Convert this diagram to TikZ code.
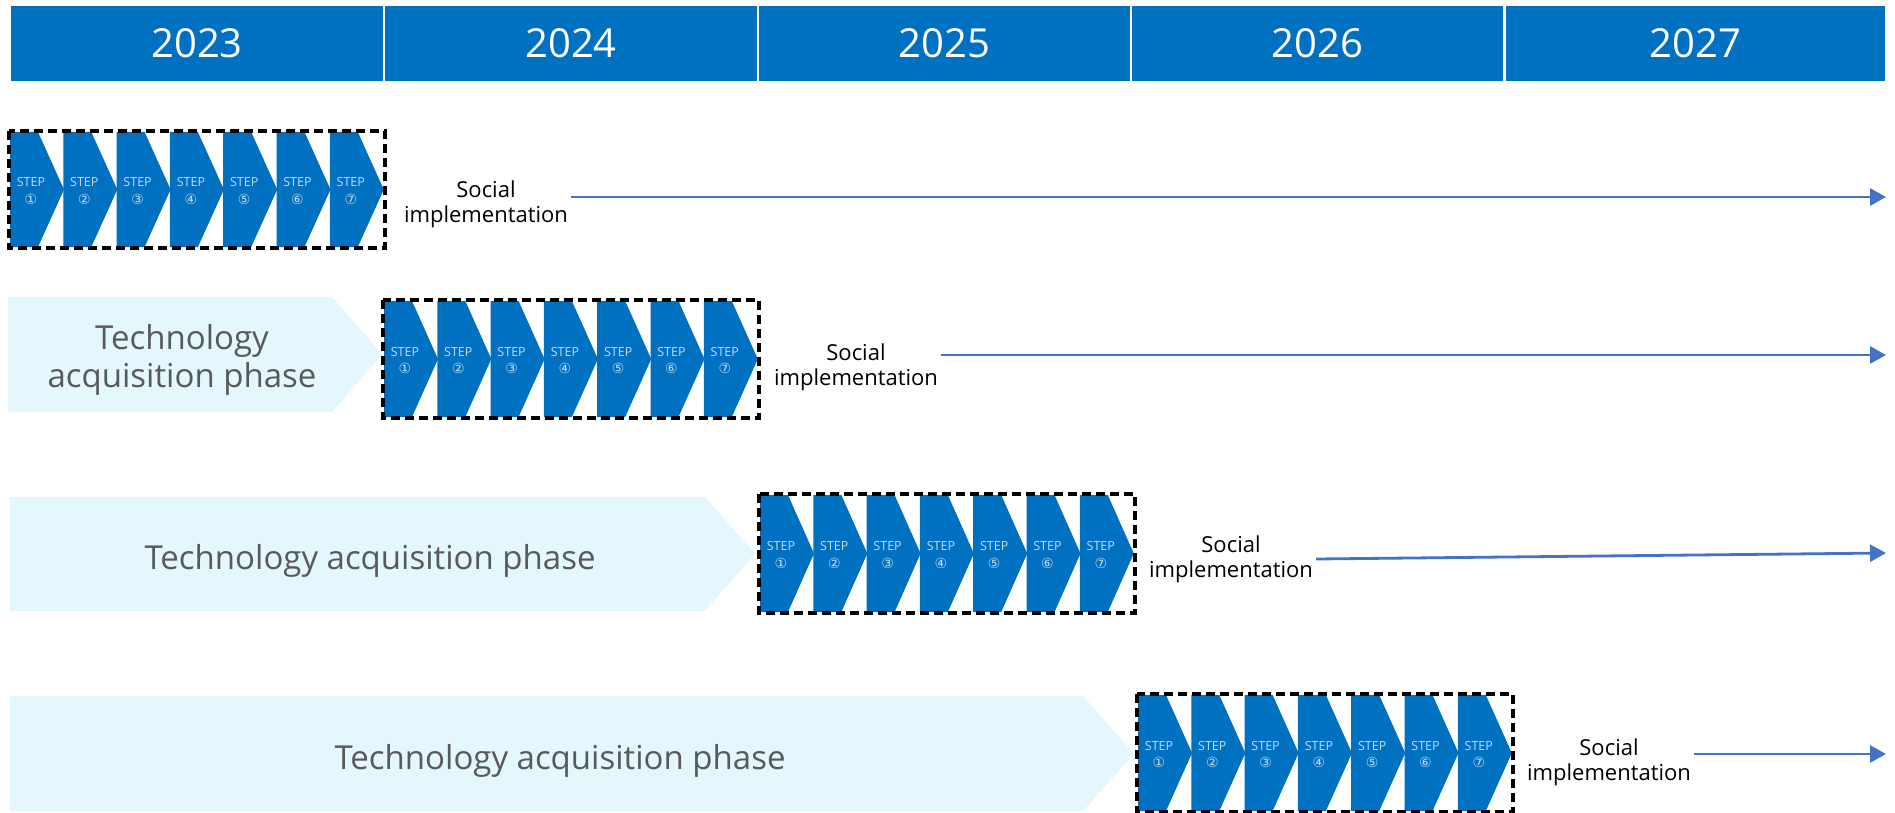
\documentclass[tikz,border=0pt]{standalone}
\usepackage{fontspec}
\setmainfont{Open Sans}
\newfontfamily\circfont{DejaVu Sans}
\usetikzlibrary{arrows.meta}
\definecolor{hdrblue}{HTML}{0070C0}
\definecolor{stepblue}{HTML}{0070C0}
\definecolor{arrblue}{HTML}{4472C4}
\definecolor{phasefill}{HTML}{E4F7FD}
\definecolor{phasetext}{HTML}{595959}
\definecolor{steptext}{HTML}{C9DCF0}
\tikzset{
  hdr/.style={fill=hdrblue, text=white, inner sep=0pt, outer sep=0pt, anchor=north west,
    minimum height=75pt, font=\fontsize{40}{44}\selectfont},
  steplbl/.style={text=steptext, inner sep=0pt, font=\fontsize{12.5}{14}\selectfont},
  stepnum/.style={text=steptext, inner sep=0pt, font=\circfont\fontsize{14}{16}\selectfont},
  dashbox/.style={draw=black, line width=3.2pt, dash pattern=on 9pt off 5pt},
  phase/.style={fill=phasefill},
  phaselbl/.style={text=phasetext, inner sep=0pt, align=center, font=\fontsize{33}{38}\selectfont},
  social/.style={text=black, inner sep=0pt, inner xsep=3pt, align=center, font=\fontsize{22}{25}\selectfont},
  arr/.style={draw=arrblue, line width=2.8pt, -{Triangle[length=16pt,width=17pt]}}
}
\newcommand{\steprow}[4]{%
  \foreach \i/\c in {1/①,2/②,3/③,4/④,5/⑤,6/⑥,7/⑦}{%
    \pgfmathsetmacro\xl{#2+(\i-1)*53.3}%
    \pgfmathsetmacro\ym{(#3+#4)/2}%
    \fill[stepblue] (\xl,#3) -- (\xl+28,#3) -- (\xl+54,\ym) -- (\xl+28,#4) -- (\xl,#4) -- cycle;
    \node[steplbl] (#1s\i) at (\xl+21,\ym-7) {STEP};
    \node[stepnum] (#1n\i) at (\xl+21,\ym+9.5) {\c};
  }%
  \draw[dashbox] (#2-1,#3-1) rectangle (#2+375,#4+1);
}
\begin{document}
\begin{tikzpicture}[x=1pt,y=-1pt]
\useasboundingbox[fill=white] (0,0) rectangle (1895,813);
% header
\node[hdr, minimum width=372pt] (y2023) at (11,6) {2023};
\node[hdr, minimum width=372pt] (y2024) at (385,6) {2024};
\node[hdr, minimum width=371pt] (y2025) at (759,6) {2025};
\node[hdr, minimum width=371pt] (y2026) at (1132,6) {2026};
\node[hdr, minimum width=379pt] (y2027) at (1506,6) {2027};
% phase arrows
\fill[phase] (8,297) -- (332,297) -- (382,354.5) -- (332,412) -- (8,412) -- cycle;
\node[phaselbl] (p2) at (182,360) {Technology\\acquisition phase};
\fill[phase] (10,497) -- (705,497) -- (755,554) -- (705,611) -- (10,611) -- cycle;
\node[phaselbl] (p3) at (370,561) {Technology acquisition phase};
\fill[phase] (10,696) -- (1083,696) -- (1134,754) -- (1083,811) -- (10,811) -- cycle;
\node[phaselbl] (p4) at (560,761) {Technology acquisition phase};
% step rows
\steprow{a}{10}{132}{247}
\steprow{b}{384}{301}{417}
\steprow{c}{760}{495}{612}
\steprow{d}{1138}{695}{811}
% social implementation
\node[social] (s1) at (486,204) {Social\\implementation};
\node[social] (s2) at (856,367) {Social\\implementation};
\node[social] (s3) at (1231,559) {Social\\implementation};
\node[social] (s4) at (1609,762) {Social\\implementation};
\coordinate (e1) at (1886,197);
\coordinate (e2) at (1886,355);
\coordinate (e3) at (1886,553);
\coordinate (e4) at (1886,754);
\draw[arr] (s1.east |- e1) -- (e1);
\draw[arr] (s2.east |- e2) -- (e2);
\draw[arr] (s3.east) -- (e3);
\draw[arr] (s4.east |- e4) -- (e4);
\end{tikzpicture}
\end{document}
